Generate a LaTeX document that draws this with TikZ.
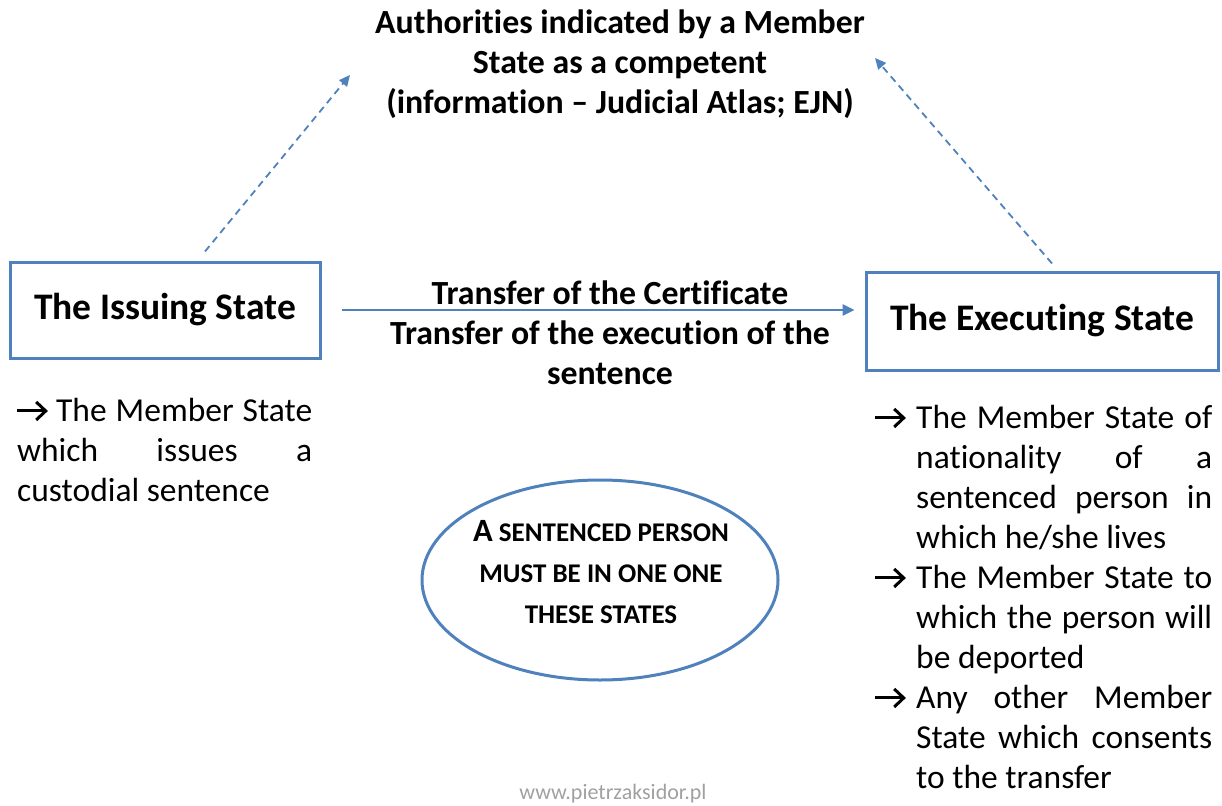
\documentclass[tikz,border=0pt]{standalone}
\usepackage{fontspec}
\setmainfont{Carlito}[Ligatures=NoCommon]
\usetikzlibrary{arrows.meta,shapes.geometric}
\definecolor{ofblue}{HTML}{4F81BD}
\definecolor{wmgray}{HTML}{A0A0A0}
\newcommand{\rarr}{\tikz[baseline=0pt,x=1pt,y=1pt]{\useasboundingbox (0,0) rectangle (30,20);\draw[line width=3pt,line join=miter,line cap=butt] (0,10.5)--(27,10.5);\draw[line width=3pt,line join=miter,line cap=butt] (19,1.5)--(28.5,10.5)--(19,19.5);}}
\newcommand{\bigA}{{\fontsize{32.5}{41}\selectfont A}}
\begin{document}
\begin{tikzpicture}[x=1pt,y=-1pt]
\tikzset{
  statebox/.style={draw=ofblue,line width=3pt,inner sep=0pt,font=\bfseries\fontsize{37.5}{40}\selectfont},
  boldtext/.style={font=\bfseries\fontsize{33.8}{40}\selectfont,align=center,inner sep=0pt},
  bodytext/.style={font=\fontsize{33.5}{40}\selectfont,align=justify,inner sep=0pt,anchor=north west},
  solidarrow/.style={draw=ofblue,line width=2.8pt,-{Triangle[length=12pt,width=11pt]}},
  dasharrow/.style={draw=ofblue,line width=1.8pt,dash pattern=on 7pt off 5pt,-{Triangle[length=11pt,width=10pt]}},
}
\useasboundingbox (0,0) rectangle (1222,805);
\node[statebox,minimum width=310pt,minimum height=96pt] (iss) at (165,310) {The Issuing State};
\node[statebox,minimum width=352pt,minimum height=98pt] (exe) at (1042,321) {The Executing State};
\node[boldtext] (auth) at (620,64) {Authorities indicated by a Member\\State as a competent\\(information – Judicial Atlas; EJN)};
\coordinate (lt) at (350,75);
\coordinate (rt) at (875,58);
\draw[dasharrow] ([xshift=40pt,yshift=9pt]iss.north) -- (lt);
\draw[dasharrow] ([xshift=10pt,yshift=7pt]exe.north) -- (rt);
\draw[solidarrow,shorten <=20pt,shorten >=10pt] (iss.east) -- (iss.east -| exe.west);
\node[boldtext] (tc) at (610,293) {Transfer of the Certificate};
\node[boldtext] (te) at (610,353) {Transfer of the execution of the\\sentence};
\node[bodytext,text width=295pt] (ltext) at (17,398) {\rarr\ The Member State\linebreak which issues a\linebreak custodial sentence};
\node[bodytext,text width=337pt] (rtext) at (875,405) {%
\hangindent=41pt\hangafter=1\makebox[41pt][l]{\rarr}The Member State of\linebreak nationality of a\linebreak sentenced person in\linebreak which he/she lives\par
\hangindent=41pt\hangafter=1\makebox[41pt][l]{\rarr}The Member State to\linebreak which the person will\linebreak be deported\par
\hangindent=41pt\hangafter=1\makebox[41pt][l]{\rarr}Any other Member\linebreak State which consents\linebreak to the transfer\par};
\node[draw=ofblue,line width=3pt,ellipse,minimum width=356pt,minimum height=200pt] (ell) at (600,580) {};
\node[font=\bfseries\fontsize{27}{41}\selectfont,align=center,inner sep=0pt] (elltext) at (601,572) {\bigA\ SENTENCED PERSON\\MUST BE IN ONE ONE\\THESE STATES};
\node[font=\fontsize{22}{24}\selectfont,text=wmgray,inner sep=0pt] (wm) at (613,794) {www.pietrzaksidor.pl};
\end{tikzpicture}
\end{document}
